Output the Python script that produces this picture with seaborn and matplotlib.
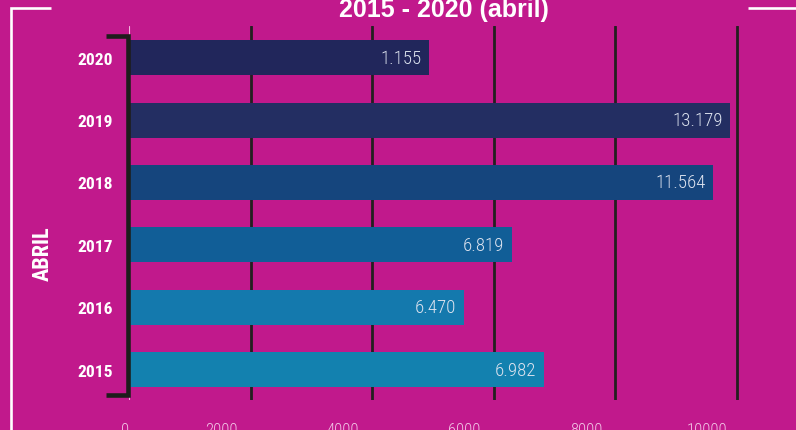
import matplotlib
matplotlib.use("Agg")
import matplotlib.pyplot as plt
import matplotlib.transforms as mtransforms
from matplotlib.lines import Line2D
import seaborn as sns
import pandas as pd

# ---- data ----
years = ["2020", "2019", "2018", "2017", "2016", "2015"]
bar_lengths = [4942, 9901, 9621, 6310, 5519, 6837]
value_labels = ["1.155", "13.179", "11.564", "6.819", "6.470", "6.982"]
bar_colors = ["#21265B", "#232E62", "#15457D", "#115E97", "#1479AD", "#1381AF"]
x_ticks = [0, 2000, 4000, 6000, 8000, 10000]
title = "2015 - 2020 (abril)"
side_label = "ABRIL"

BG = "#C1198C"
W, H = 796, 431
DPI = 100

sns.set_theme(style="white")
plt.rcParams["font.family"] = ["Liberation Sans", "DejaVu Sans"]
NARROW = ["Liberation Sans Narrow", "Roboto Condensed", "DejaVu Sans Condensed",
          "Liberation Sans", "DejaVu Sans"]

fig = plt.figure(figsize=(W / DPI, H / DPI), dpi=DPI, facecolor=BG)

# axes geometry (pixels)
x0_px, top_px, bot_px = 129, 27.3, 401
px_per_unit = (736.5 - 129) / 10000
xmax = 10500
ax = fig.add_axes([x0_px / W, (H - bot_px) / H,
                   xmax * px_per_unit / W, (bot_px - top_px) / H])
ax.set_facecolor(BG)

df = pd.DataFrame({"year": years, "value": bar_lengths})
sns.barplot(data=df, x="value", y="year", hue="year", order=years,
            palette=dict(zip(years, bar_colors)), orient="h", width=0.56,
            legend=False, saturation=1, ax=ax, zorder=3,
            linewidth=0, edgecolor="none")

ax.set_xlim(0, xmax)
ax.set_ylim(5.489, -0.505)
for s in ax.spines.values():
    s.set_visible(False)

# gridlines
ax.set_xticks(x_ticks)
for xv in x_ticks[1:]:
    ax.axvline(xv, color="#231F20", lw=2.0, zorder=1)
ax.axvline(0, color="#F3B5DF", lw=0.8, zorder=1)

ax.set_xlabel("")
ax.set_ylabel("")
ax.tick_params(axis="x", length=0, pad=16, colors="#F2C6E6", labelsize=12)
ax.set_xticklabels([str(t) for t in x_ticks])
for i, lbl in enumerate(ax.get_xticklabels()):
    lbl.set_fontfamily(NARROW)
    lbl.set_fontweight("light")
    dx = -4 if i == 0 else -29
    lbl.set_transform(lbl.get_transform() +
                      mtransforms.ScaledTranslation(dx / DPI, 0, fig.dpi_scale_trans))

ax.tick_params(axis="y", length=0, pad=11.5, colors="white")
for lbl in ax.get_yticklabels():
    lbl.set_fontfamily(NARROW)
    lbl.set_fontweight("bold")
    lbl.set_fontsize(12.6)

# value labels
for i, (v, t) in enumerate(zip(bar_lengths, value_labels)):
    ax.annotate(t, xy=(v, i), xytext=(-8, 0), textcoords="offset pixels",
                ha="right", va="center", color="#DDE3EF", fontsize=13.6,
                family=NARROW, fontweight="light", zorder=5)

# bracket
def fig_line(xs, ys, **kw):
    fig.add_artist(Line2D([x / W for x in xs], [1 - y / H for y in ys],
                          transform=fig.transFigure, **kw))

bk = dict(color="#1D1D1B", lw=3.3, solid_capstyle="butt", solid_joinstyle="miter")
fig_line([106, 127.5, 127.5, 106], [37, 37, 396, 396], **bk)

# white frame lines
fr = dict(color="white", lw=1.9, solid_capstyle="butt", solid_joinstyle="miter")
fig_line([51, 10.5, 10.5], [8.5, 8.5, 440], **fr)
fig_line([748, 800], [8.5, 8.5], **fr)

# title and side label
fig.text(443.5 / W, 1 - 17.3 / H, title, ha="center", va="baseline",
         color="white", fontsize=18, fontweight="bold",
         family=["Liberation Sans", "DejaVu Sans"])
fig.text(43 / W, 1 - 253.5 / H, side_label, ha="center", va="center",
         rotation=90, color="white", fontsize=16, fontweight="bold",
         family=NARROW)

fig.savefig("out.png", dpi=DPI, facecolor=BG)
